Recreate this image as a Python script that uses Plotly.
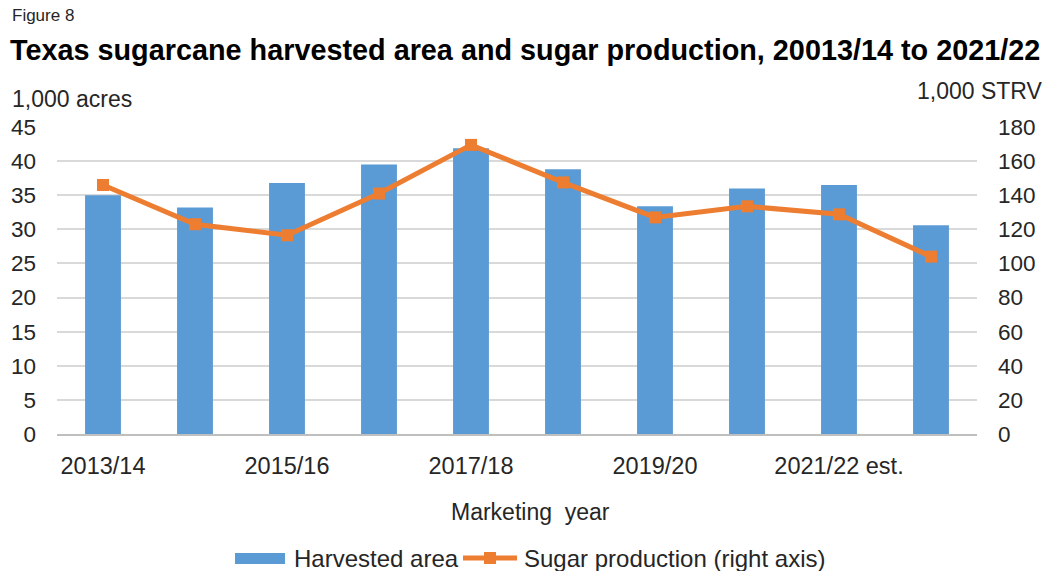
import plotly.graph_objects as go

# Marketing years (every other one is labelled on the axis)
years = ["2013/14", "2014/15", "2015/16", "2016/17", "2017/18",
         "2018/19", "2019/20", "2020/21", "2021/22 est.", "2022/23"]
labelled_years = ["2013/14", "2015/16", "2017/18", "2019/20", "2021/22 est."]

# Harvested area, 1,000 acres
harvested_area = [35.0, 33.2, 36.8, 39.5, 41.9, 38.8, 33.4, 36.0, 36.5, 30.6]

# Sugar production, 1,000 short tons raw value
sugar_production = [146, 123, 116.5, 141, 169.5, 147.5, 127, 133.5, 128.8, 104]

left_ticks = list(range(0, 50, 5))
right_ticks = list(range(0, 200, 20))

BLUE = "#5b9bd5"
ORANGE = "#ed7d31"
FONT = "Liberation Sans, Arial, sans-serif"
TXT = "#262626"

# plot area in page pixels
PL, PR, PT, PB = 57, 977, 127, 434

fig = go.Figure()

fig.add_trace(go.Bar(
    x=years, y=harvested_area, name="Harvested area",
    marker=dict(color=BLUE, line=dict(width=0)),
    width=0.39, yaxis="y", showlegend=False,
))

fig.add_trace(go.Scatter(
    x=years, y=sugar_production, name="Sugar production (right axis)",
    mode="lines+markers",
    line=dict(color=ORANGE, width=5),
    marker=dict(symbol="square", size=12, color=ORANGE),
    yaxis="y2", showlegend=False,
))

fig.update_layout(
    width=1050, height=571,
    margin=dict(l=PL, r=1050 - PR, t=PT, b=571 - PB, autoexpand=False),
    paper_bgcolor="white", plot_bgcolor="white",
    font=dict(family=FONT, size=23, color=TXT),
    xaxis=dict(
        type="category", categoryorder="array", categoryarray=years,
        range=[-0.5, len(years) - 0.5],
        tickvals=labelled_years, ticktext=labelled_years,
        showgrid=False, showline=True, linecolor="#bfbfbf", linewidth=1.5,
        ticks="", ticklabelstandoff=10, automargin=False,
        tickfont=dict(size=23.5, color=TXT),
    ),
    yaxis=dict(
        range=[0, 45], tickvals=left_ticks,
        showgrid=True, gridcolor="#d9d9d9", gridwidth=1.5,
        zeroline=False, showline=False, ticks="",
        ticklabelstandoff=20, automargin=False,
        tickfont=dict(size=22.5, color=TXT),
    ),
    yaxis2=dict(
        range=[0, 180], tickvals=right_ticks, overlaying="y", side="right",
        showgrid=False, zeroline=False, showline=False, ticks="",
        ticklabelstandoff=20, automargin=False,
        tickfont=dict(size=22.5, color=TXT),
    ),
    bargap=0.6,
)


def px_x(v):
    return (v - PL) / (PR - PL)


def px_y(v):
    return (PB - v) / (PB - PT)


annotations = [
    dict(text="Figure 8", x=10, y=15, font=dict(size=17, color=TXT)),
    dict(text="<b>Texas sugarcane harvested area and sugar production, 20013/14 to 2021/22</b>",
         x=8, y=50, font=dict(size=28.8, color="#000000")),
    dict(text="1,000 acres", x=10, y=99, font=dict(size=23, color=TXT)),
    dict(text="1,000 STRV", x=1045, y=91, font=dict(size=23, color=TXT), xanchor="right"),
    dict(text="Marketing  year", x=530, y=512, font=dict(size=23, color=TXT), xanchor="center"),
    dict(text="Harvested area", x=292, y=558, font=dict(size=24, color=TXT)),
    dict(text="Sugar production (right axis)", x=522, y=558, font=dict(size=24, color=TXT)),
]
for a in annotations:
    fig.add_annotation(
        text=a["text"], xref="paper", yref="paper",
        x=px_x(a["x"]), y=px_y(a["y"]),
        xanchor=a.get("xanchor", "left"), yanchor="middle",
        showarrow=False, font=a["font"],
    )

# Legend keys
fig.add_shape(type="rect", xref="paper", yref="paper",
              x0=px_x(235), x1=px_x(285), y0=px_y(564), y1=px_y(553),
              fillcolor=BLUE, line=dict(width=0))
fig.add_shape(type="line", xref="paper", yref="paper",
              x0=px_x(463), x1=px_x(517), y0=px_y(558), y1=px_y(558),
              line=dict(color=ORANGE, width=5))
fig.add_shape(type="rect", xref="paper", yref="paper",
              x0=px_x(484), x1=px_x(496), y0=px_y(564), y1=px_y(552),
              fillcolor=ORANGE, line=dict(width=0))

fig.write_html("out.html")
